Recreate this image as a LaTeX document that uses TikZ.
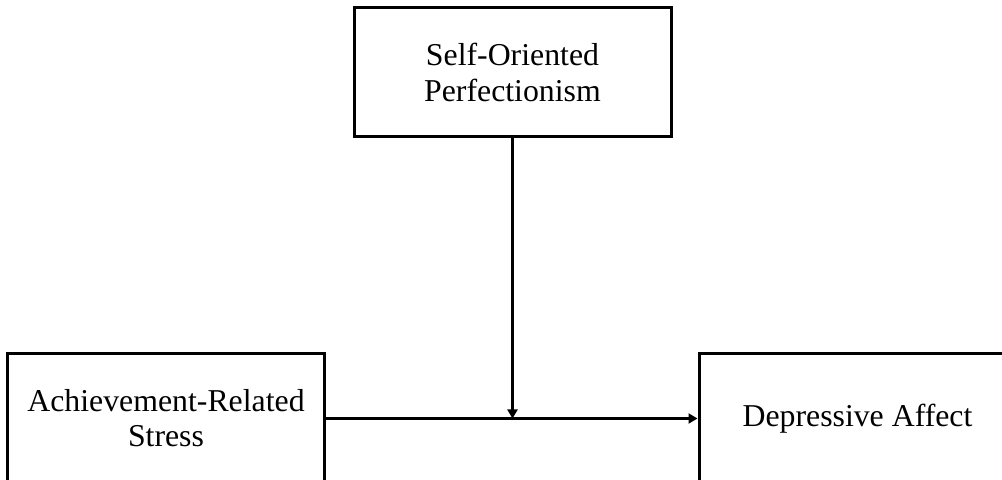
\documentclass[tikz,border=0pt]{standalone}
\usepackage{fontspec}
\setmainfont{Liberation Serif}
\usetikzlibrary{calc}
\usetikzlibrary{arrows, arrows.meta}

\begin{document}
\begin{tikzpicture}[x=0.5pt, y=-0.5pt]

\useasboundingbox (0, 0) rectangle (1002, 480) ;

\def\boxwidth{158.5pt}
\def\boxheight{64.5pt}

% variables

\tikzstyle{variable box} =
	[draw=black, line width=1.5pt, fill=white, minimum width=\boxwidth, minimum height=\boxheight,
	 align=center, font=\fontsize{15.9pt}{17.6pt}\selectfont]

\node [variable box] (perfectionism) at (512.5, 72.5) {Self-Oriented\\Perfectionism} ;
\node [variable box] (stress) at (166, 418.5) {Achievement-Related\\Stress} ;
\node [variable box] (affect) at (857.5, 418.5) {Depressive Affect} ;

% paths

\tikzstyle{path line} =
	[line width=1.5pt, color=black, -{Triangle[length=4.5pt, width=5pt]}]

\coordinate (moderation) at (stress.east -| perfectionism.south) ;

\draw [path line] (stress.east) -- (affect.west) ;
\draw [path line] (perfectionism.south) -- (moderation) ;

\end{tikzpicture}
\end{document}
